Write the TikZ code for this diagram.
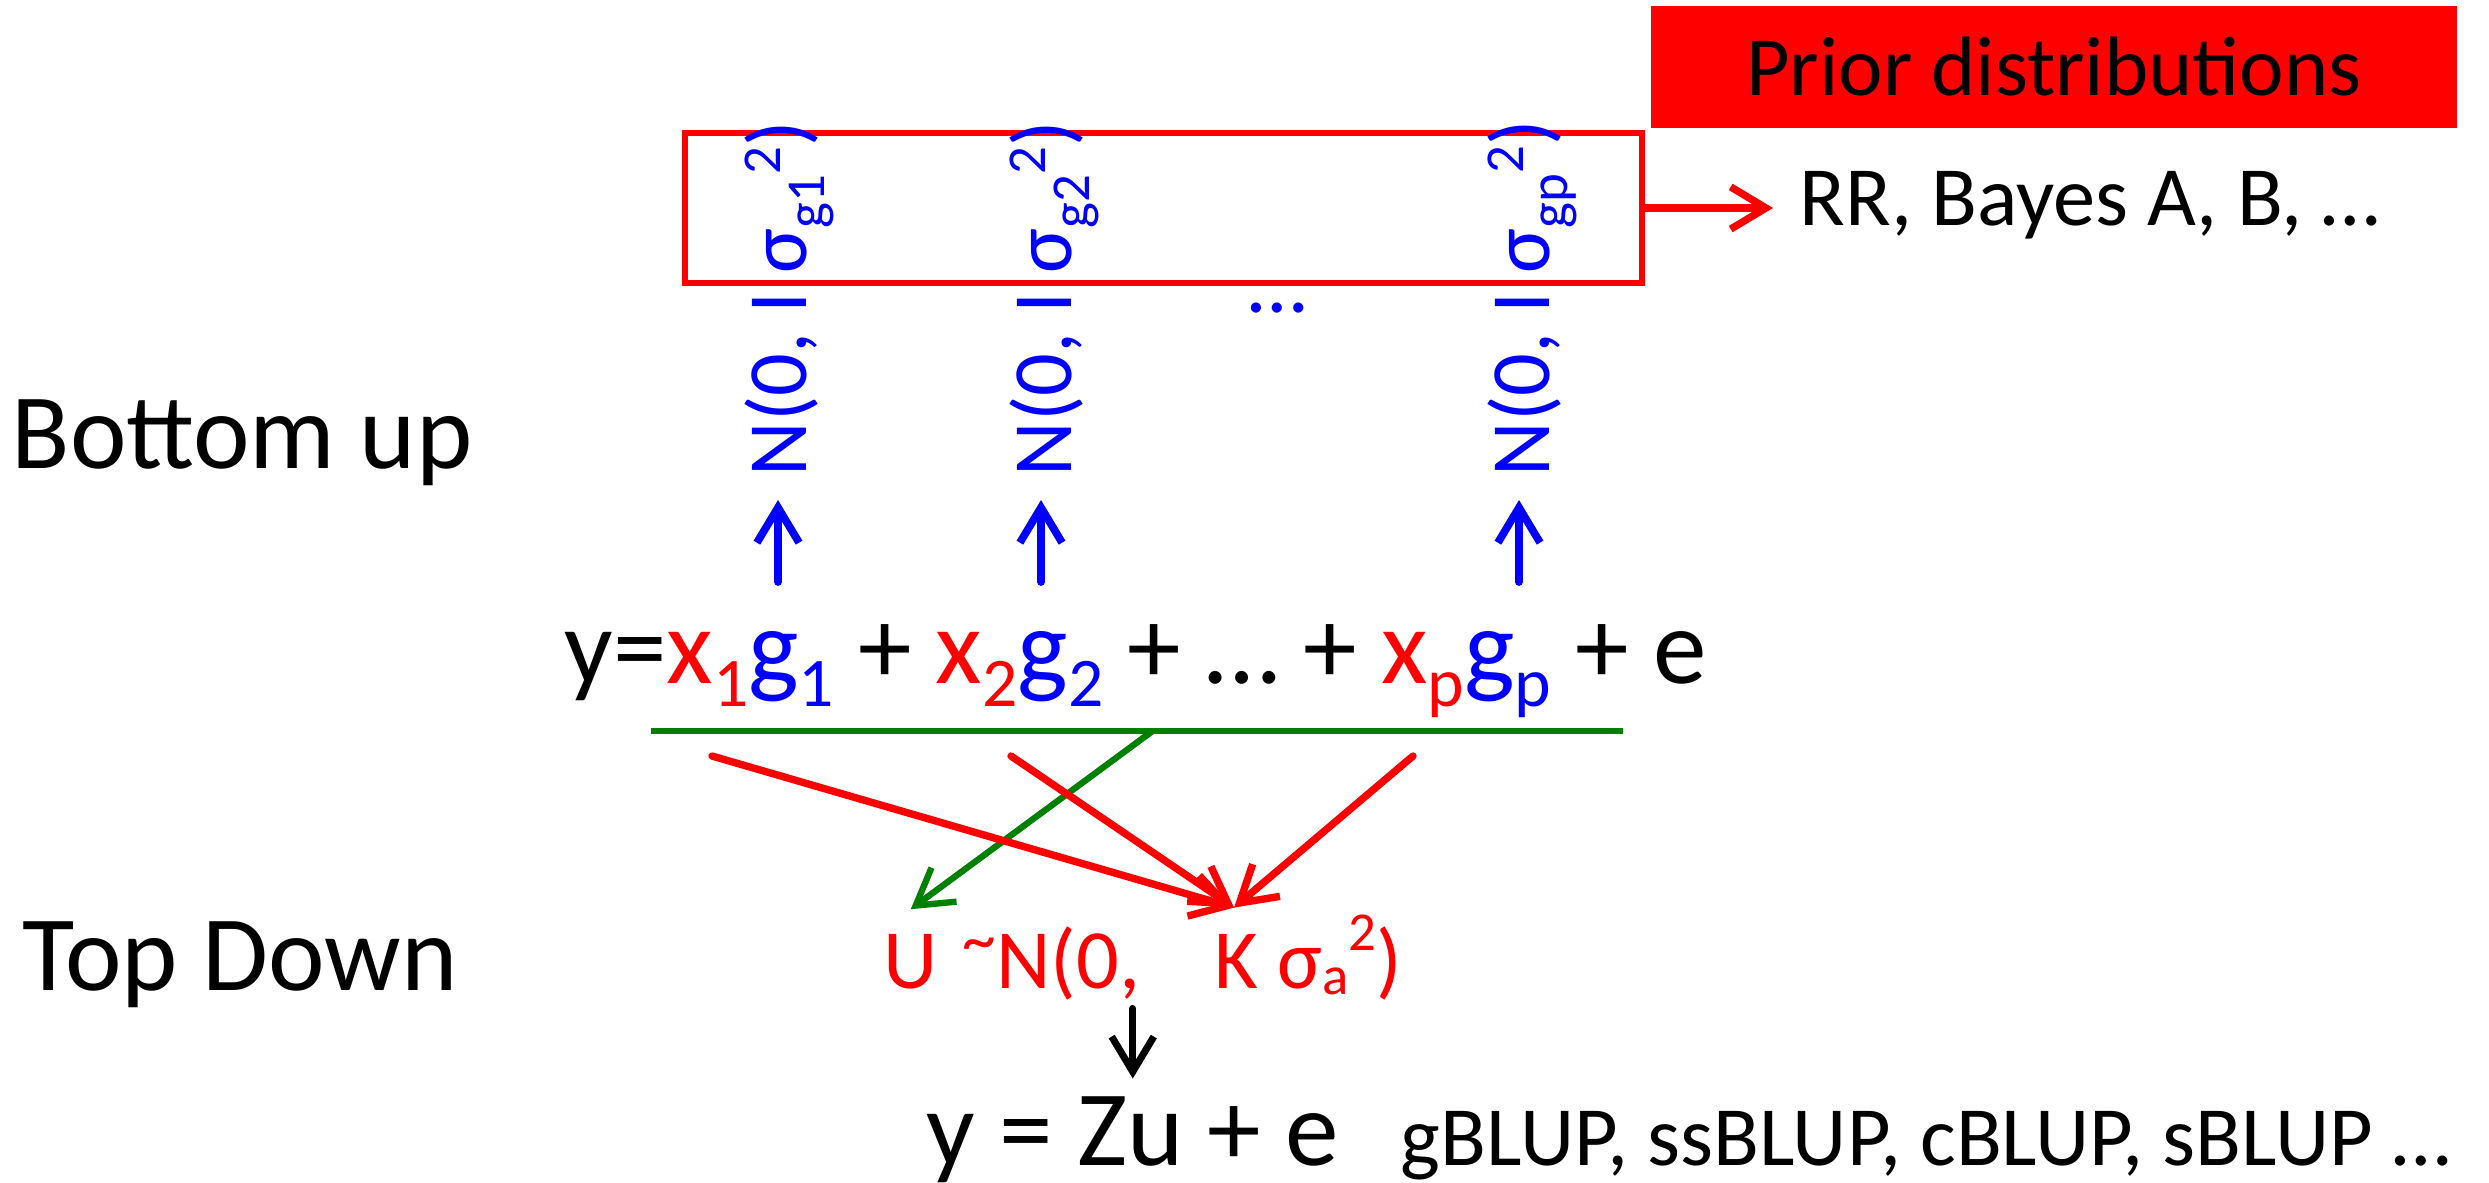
\documentclass[tikz,border=0pt]{standalone}
\usepackage{fontspec}
\setmainfont{Carlito}
\usepackage{graphicx}
\usetikzlibrary{arrows.meta,calc,positioning}
\definecolor{eqred}{HTML}{FF0000}
\definecolor{eqblue}{HTML}{0000FF}
\definecolor{eqgreen}{HTML}{008000}
\newcommand{\lowtxt}[2][-0.22em]{\raisebox{#1}{\scalebox{0.65}{#2}}}
\newcommand{\hightxt}[2][0.30em]{\raisebox{#1}{\scalebox{0.65}{#2}}}

\begin{document}
\begin{tikzpicture}[
  every node/.style={inner sep=0pt},
  big/.style={font=\fontsize{30.5}{36}\selectfont},
  mid/.style={font=\fontsize{24}{29}\selectfont},
  barb/.style={-{Straight Barb[length=10pt,width=12pt]},line cap=round},
  blueup/.style={barb,eqblue,line width=2.2pt},
  redin/.style={barb,eqred,line width=2.1pt},
  greenin/.style={barb,eqgreen,line width=1.8pt}
]
  \useasboundingbox (0,0) rectangle (24.89,11.82);

  % priors
  \node[fill=eqred,minimum width=8.06cm,minimum height=1.22cm,mid] (priors) at (20.54,11.15) {Prior distributions};
  \node[draw=eqred,line width=1.5pt,minimum width=9.57cm,minimum height=1.50cm] (priorbox) at (11.635,9.74) {};
  \node[mid,anchor=base west] (methods) at (17.99,9.57) {RR, Bayes A, B, …};
  \draw[redin,shorten >=0.26cm] (priorbox.east) -- (priorbox.east -| methods.west);

  % bottom up
  \node[big,anchor=base west] (bottomup) at (0.11,7.14) {Bottom up};
  \foreach \x/\k/\gx in {8.06/1/7.78, 10.71/2/10.41, 15.49/p/15.19}{
    \node[mid,eqblue,rotate=90,anchor=base west] (n\k) at (\x,7.05) {N(0, I σ\lowtxt{g\k}\hightxt{2})};
    \coordinate (g\k) at (\gx,6.00);
    \draw[blueup,shorten >=0.23cm] (g\k) -- (g\k |- n\k.west);
  }
  \node[mid,eqblue,anchor=base] (gap) at (12.78,8.70) {…};

  \node[big,anchor=base west] (model) at (5.64,4.99) {y=\textcolor{eqred}{x\lowtxt{1}}\textcolor{eqblue}{g\lowtxt{1}} + \textcolor{eqred}{x\lowtxt{2}}\textcolor{eqblue}{g\lowtxt{2}} + … + \textcolor{eqred}{x\lowtxt{p}}\textcolor{eqblue}{g\lowtxt{p}} + e};
  \coordinate (barL) at (6.51,4.51);
  \coordinate (barR) at (16.23,4.51);
  \draw[eqgreen,line width=1.8pt] (barL) -- (barR);

  % top down
  \node[big,anchor=base west] (topdown) at (0.22,1.92) {Top Down};
  \node[mid,eqred,anchor=base west] (u) at (8.83,1.94) {U};
  \node[mid,eqred,anchor=base west] (dist) at (9.62,1.94) {\raisebox{0.3em}{\scalebox{0.8}{\textasciitilde}}N(0,};
  \node[mid,eqred,anchor=base west] (kern) at (12.14,1.94) {K σ\lowtxt[-0.08em]{a}\hightxt[0.44em]{2})};
  \coordinate (uin) at ([yshift=0.24cm]u.north);
  \coordinate (kin) at ([xshift=0.2cm,yshift=0.07cm]kern.north west);
  \draw[greenin] ($(barL)!0.516!(barR)$) -- (uin);
  \foreach \sx [count=\i] in {7.12,10.11,14.13}{
    \coordinate (r\i) at (\sx,4.26);
    \draw[redin] (r\i) -- (kin);
  }

  \node[big,anchor=base west] (zu) at (9.26,0.17) {y = Zu + e};
  \node[mid,anchor=base west] (blups) at (14.00,0.17) {gBLUP, ssBLUP, cBLUP, sBLUP …};
  \draw[barb,line width=2pt,shorten <=0.08cm,shorten >=0.17cm] (zu.north |- dist.south) -- (zu.north);
\end{tikzpicture}
\end{document}
